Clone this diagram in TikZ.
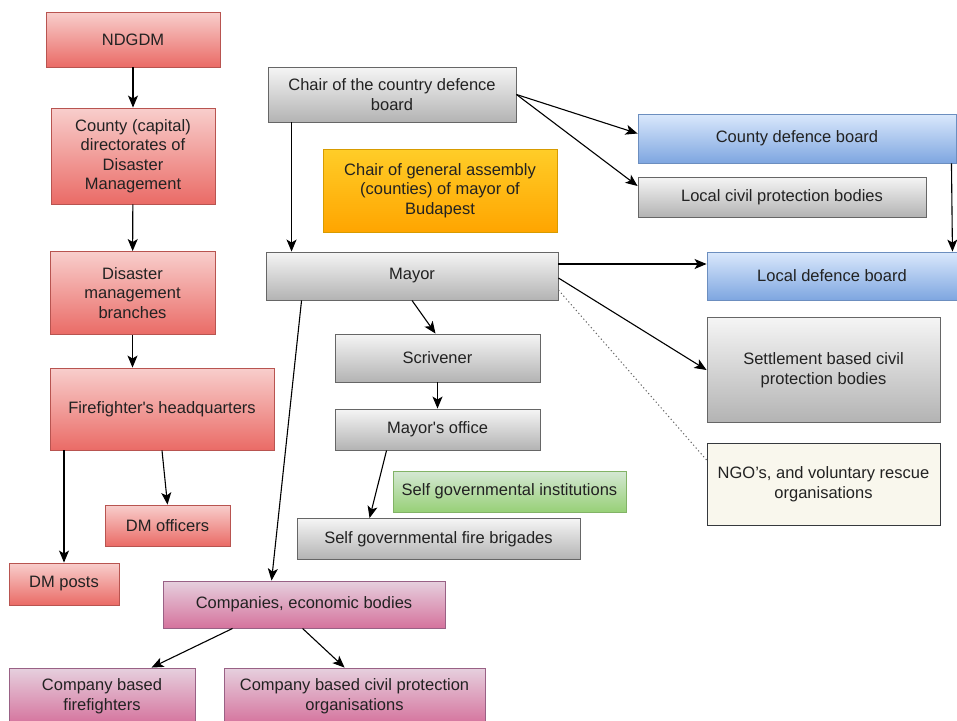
\documentclass[tikz,border=0pt]{standalone}
\usepackage{fontspec}
\setmainfont{Liberation Sans}
\usepackage{xcolor}
\usetikzlibrary{arrows.meta}

\definecolor{redtop}{HTML}{F8CECC}
\definecolor{redbot}{HTML}{EA6B66}
\definecolor{redline}{HTML}{B85450}
\definecolor{graytop}{HTML}{F5F5F5}
\definecolor{graybot}{HTML}{B3B3B3}
\definecolor{grayline}{HTML}{666666}
\definecolor{bluetop}{HTML}{DAE8FC}
\definecolor{bluebot}{HTML}{7EA6E0}
\definecolor{blueline}{HTML}{6C8EBF}
\definecolor{orangetop}{HTML}{FFCD28}
\definecolor{orangebot}{HTML}{FFA500}
\definecolor{orangeline}{HTML}{D79B00}
\definecolor{greentop}{HTML}{D5E8D4}
\definecolor{greenbot}{HTML}{97D077}
\definecolor{greenline}{HTML}{82B366}
\definecolor{pinktop}{HTML}{E6D0DE}
\definecolor{pinkbot}{HTML}{D5739D}
\definecolor{pinkline}{HTML}{996185}
\definecolor{creamfill}{HTML}{F9F7ED}
\definecolor{creamline}{HTML}{36393D}
\definecolor{txt}{HTML}{222222}

\begin{document}
\begin{tikzpicture}[x=1pt, y=-1pt,
    font=\fontsize{16.5}{19.5}\selectfont,
    box/.style={draw, rectangle, align=center, line width=0.9pt, inner sep=1pt, text=txt},
    redbox/.style={box, draw=redline, top color=redtop, bottom color=redbot},
    graybox/.style={box, draw=grayline, top color=graytop, bottom color=graybot},
    bluebox/.style={box, draw=blueline, top color=bluetop, bottom color=bluebot},
    orangebox/.style={box, draw=orangeline, top color=orangetop, bottom color=orangebot},
    greenbox/.style={box, draw=greenline, top color=greentop, bottom color=greenbot},
    pinkbox/.style={box, draw=pinkline, top color=pinktop, bottom color=pinkbot},
    creambox/.style={box, draw=creamline, fill=creamfill},
    link/.style={-{Stealth[length=12pt, width=10pt, inset=3pt]}, line width=1.1pt},
    hint/.style={line width=1pt, black!60, dash pattern=on 1.2pt off 2.6pt}]
    \clip (0,0) rectangle (957,720);
    \fill[white] (0,0) rectangle (957,720);

    % Disaster management chain
    \node[redbox, minimum width=174, minimum height=55] (ndgdm) at (133,39.5) {NDGDM};
    \node[redbox, minimum width=164, minimum height=96] (county) at (133,156) {County (capital)\\directorates of\\Disaster\\Management};
    \node[redbox, minimum width=165, minimum height=83] (branches) at (132.5,293) {Disaster\\management\\branches};
    \node[redbox, minimum width=224, minimum height=82] (hq) at (162,409) {Firefighter\textquotesingle s headquarters};
    \node[redbox, minimum width=125, minimum height=41] (officers) at (167.5,525.5) {DM officers};
    \node[redbox, minimum width=110, minimum height=42] (posts) at (64,584) {DM posts};

    % Defence boards
    \node[graybox, minimum width=248, minimum height=55] (chair) at (392,94.5) {Chair of the country defence\\board};
    \node[orangebox, minimum width=234, minimum height=83] (assembly) at (440,190.5) {Chair of general assembly\\(counties) of mayor of\\Budapest};
    \node[bluebox, minimum width=318, minimum height=49] (cdb) at (797,138.5) {County defence board};
    \node[graybox, minimum width=288, minimum height=40] (lcpb) at (782,197) {Local civil protection bodies};
    \node[bluebox, minimum width=250, minimum height=48] (ldb) at (832,276) {Local defence board};

    % Mayor and below
    \node[graybox, minimum width=292, minimum height=48] (mayor) at (412,276) {Mayor};
    \node[graybox, minimum width=205, minimum height=48] (scriv) at (437.5,358) {Scrivener};
    \node[graybox, minimum width=205, minimum height=41] (office) at (437.5,429.5) {Mayor\textquotesingle s office};
    \node[greenbox, minimum width=233, minimum height=41] (sgi) at (509.5,491.5) {Self governmental institutions};
    \node[graybox, minimum width=283, minimum height=41] (brigades) at (438.5,539) {Self governmental fire brigades};
    \node[graybox, minimum width=233, minimum height=105] (settle) at (823.5,370) {Settlement based civil\\protection bodies};
    \node[creambox, minimum width=233, minimum height=82] (ngo) at (823.5,484) {NGO's, and voluntary rescue\\organisations};

    % Companies
    \node[pinkbox, minimum width=282, minimum height=47] (companies) at (304,604.5) {Companies, economic bodies};
    \node[pinkbox, minimum width=186, minimum height=56] (cfire) at (102,696) {Company based\\firefighters};
    \node[pinkbox, minimum width=261, minimum height=56] (ccivil) at (354.5,696) {Company based civil protection\\organisations};

    % Connectors
    \draw[link] (ndgdm) -- (county);
    \draw[link] (county) -- (branches);
    \draw[link] (branches.south) -- (branches.south |- hq.north);
    \draw[link] (hq.south -| posts.north) -- (posts.north);
    \draw[link] (hq.south) -- (officers.north);
    \draw[link] ([xshift=24]chair.south west) -- ([xshift=26]mayor.north west);
    \draw[link] (chair.east) -- ([yshift=5]cdb.west);
    \draw[link] (chair.east) -- ([yshift=11]lcpb.west);
    \draw[link] ([xshift=-5]cdb.south east) -- ([xshift=-5]ldb.north east);
    \draw[link] ([yshift=12]mayor.east) -- ([yshift=12]ldb.west);
    \draw[link] ([yshift=-2]mayor.east) -- (settle.west);
    \draw[hint] ([yshift=-14]mayor.east) -- ([yshift=24]ngo.west);
    \draw[link] (mayor.south) -- ([xshift=-2]scriv.north);
    \draw[link] (scriv) -- (office);
    \draw[link] ([xshift=52]office.south west) -- ([xshift=73]brigades.north west);
    \draw[link] ([xshift=36]mayor.south west) -- ([xshift=109]companies.north west);
    \draw[link] ([xshift=70]companies.south west) -- ([xshift=143]cfire.north west);
    \draw[link] ([xshift=140]companies.south west) -- ([xshift=121]ccivil.north west);
\end{tikzpicture}
\end{document}
